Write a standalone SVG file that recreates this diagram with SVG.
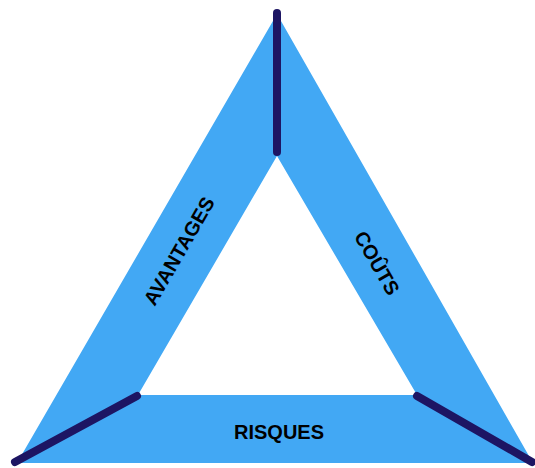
<svg xmlns="http://www.w3.org/2000/svg" width="535" height="468" viewBox="0 0 535 468">
<style>
.band{fill:#42a8f4;fill-rule:evenodd}
.lbl{font-family:"Liberation Sans",Arial,sans-serif;font-weight:bold;font-size:20px;fill:#000;text-anchor:middle}
.conn{stroke:#1d1563;stroke-width:8;stroke-linecap:round;fill:none}
</style>
<g id="triangle">
<path class="band" d="M277,14 L533,463 L17,463 Z M277,156 L138,395 L417,395 Z"/>
</g>
<g id="avantages"><text class="lbl" transform="translate(179,251) rotate(-60)" y="7">AVANTAGES</text></g>
<g id="couts"><text class="lbl" transform="translate(377,263) rotate(60)" y="7">COÛTS</text></g>
<g id="risques"><text class="lbl" x="279" y="439">RISQUES</text></g>
<g id="connectors">
<line class="conn" x1="277" y1="13" x2="277" y2="152"/>
<line class="conn" x1="15" y1="462" x2="137" y2="396"/>
<line class="conn" x1="417" y1="396" x2="532" y2="462"/>
</g>
</svg>
